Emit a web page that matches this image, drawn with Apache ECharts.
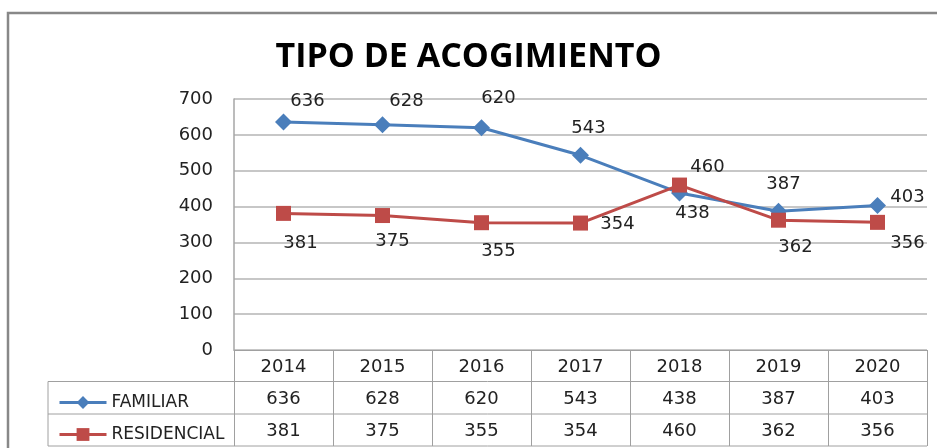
<!DOCTYPE html>
<html>
<head>
<meta charset="utf-8">
<script src="https://cdn.jsdelivr.net/npm/echarts@6/dist/echarts.min.js"></script>
<style>
  html, body { margin: 0; padding: 0; background: #fff; }
  #main { width: 937px; height: 448px; }
</style>
</head>
<body>
<div id="main"></div>
<script>
// datos
const years = ['2014', '2015', '2016', '2017', '2018', '2019', '2020'];
const familiar = [636, 628, 620, 543, 438, 387, 403];
const residencial = [381, 375, 355, 354, 460, 362, 356];
const yTicks = [0, 100, 200, 300, 400, 500, 600, 700];

// desplazamiento de las etiquetas (como en la hoja de calculo)
const famOffsets = [[24, -21], [24, -23], [17, -29], [8, -27], [13, 20], [5, -27], [30, -8]];
const resOffsets = [[17, 30], [10, 26], [17, 29], [37, 1], [28, -18], [17, 27], [30, 21]];

const txt = '#222';
const font = 'DejaVu Sans';
const fs = 18;
const tableLine = '#a0a0a0';

function withLabels(values, offsets) {
  return values.map(function (v, i) {
    return { value: v, label: { offset: offsets[i] } };
  });
}

function legendRow(name, top) {
  return {
    left: 53,
    top: top,
    itemWidth: 47,
    itemHeight: 16,
    itemGap: 4,
    lineStyle: { width: 3 },
    textStyle: { fontSize: 17, color: txt, fontFamily: font },
    data: [name]
  };
}

const chart = echarts.init(document.getElementById('main'), null, { renderer: 'canvas' });

const option = {
  animation: false,
  backgroundColor: '#fff',
  textStyle: { fontFamily: font },
  title: {
    text: 'TIPO DE ACOGIMIENTO',
    left: 'center',
    top: 35,
    textStyle: { fontFamily: 'Open Sans', fontWeight: 'bold', fontSize: 34, color: '#000' }
  },
  legend: [legendRow('FAMILIAR', 389), legendRow('RESIDENCIAL', 421)],
  grid: { left: 234, right: 10, top: 99, bottom: 98 },
  xAxis: [
    {
      type: 'category',
      data: years,
      position: 'bottom',
      boundaryGap: true,
      axisLine: { show: true, lineStyle: { color: tableLine, width: 1 } },
      axisTick: { show: true, interval: 0, length: 96, lineStyle: { color: tableLine } },
      axisLabel: { margin: 8, fontSize: fs, color: txt, fontFamily: font, interval: 0 },
      splitLine: { show: false }
    },
    {
      type: 'category',
      data: familiar.map(String),
      position: 'bottom',
      offset: 32,
      axisLine: { show: false },
      axisTick: { show: false },
      axisLabel: { margin: 8, fontSize: fs, color: txt, fontFamily: font, interval: 0 }
    },
    {
      type: 'category',
      data: residencial.map(String),
      position: 'bottom',
      offset: 64,
      axisLine: { show: false },
      axisTick: { show: false },
      axisLabel: { margin: 8, fontSize: fs, color: txt, fontFamily: font, interval: 0 }
    }
  ],
  yAxis: {
    type: 'value',
    min: yTicks[0],
    max: yTicks[yTicks.length - 1],
    interval: 100,
    axisLine: { show: true, lineStyle: { color: '#a6a6a6', width: 1.5 } },
    axisTick: { show: false },
    axisLabel: { margin: 21, fontSize: fs, color: txt, fontFamily: font },
    splitLine: { lineStyle: { color: '#b4b4b4', width: 1.5 } }
  },
  series: [
    {
      name: 'FAMILIAR',
      type: 'line',
      data: withLabels(familiar, famOffsets),
      symbol: 'diamond',
      symbolSize: 17,
      color: '#4a7ebb',
      lineStyle: { width: 3, color: '#4a7ebb' },
      itemStyle: { color: '#4a7ebb' },
      label: { show: true, position: 'inside', fontSize: fs, color: txt, fontFamily: font },
      z: 3
    },
    {
      name: 'RESIDENCIAL',
      type: 'line',
      data: withLabels(residencial, resOffsets),
      symbol: 'rect',
      symbolSize: 15,
      color: '#be4b48',
      lineStyle: { width: 3, color: '#be4b48' },
      itemStyle: { color: '#be4b48' },
      label: { show: true, position: 'inside', fontSize: fs, color: txt, fontFamily: font },
      z: 4
    }
  ],
  graphic: [
    // marco exterior
    { type: 'rect', shape: { x: 8, y: 13, width: 960, height: 460 }, style: { fill: 'none', stroke: '#888', lineWidth: 2.5 }, silent: true },
    // lineas de la tabla
    { type: 'line', shape: { x1: 48, y1: 381.5, x2: 927, y2: 381.5 }, style: { stroke: tableLine, lineWidth: 1 } },
    { type: 'line', shape: { x1: 48, y1: 414, x2: 927, y2: 414 }, style: { stroke: tableLine, lineWidth: 1 } },
    { type: 'line', shape: { x1: 48, y1: 446, x2: 927, y2: 446 }, style: { stroke: tableLine, lineWidth: 1 } },
    { type: 'line', shape: { x1: 48, y1: 381.5, x2: 48, y2: 446 }, style: { stroke: tableLine, lineWidth: 1 } }
  ]
};

chart.setOption(option);
</script>
</body>
</html>
